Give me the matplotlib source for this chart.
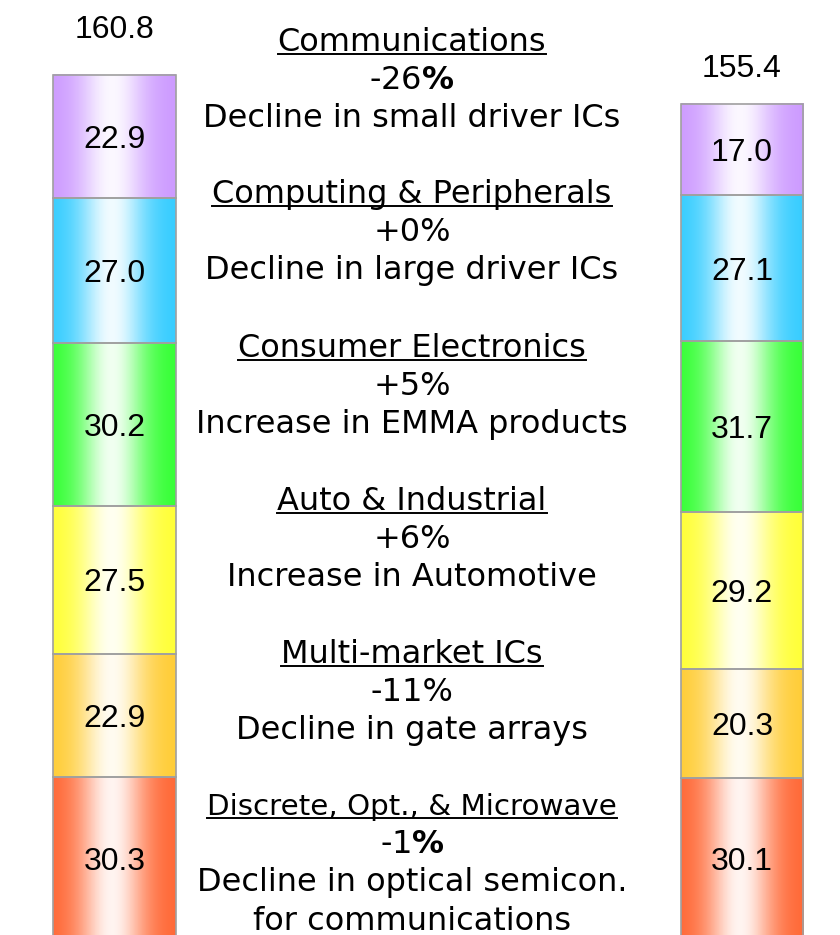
import numpy as np
import matplotlib
matplotlib.use("Agg")
import matplotlib.pyplot as plt
from matplotlib.colors import to_rgb
from matplotlib.lines import Line2D

plt.rcParams['mathtext.fontset'] = 'dejavusans'

# ---- data ----
bars = ["Left", "Right"]
segment_names = ["Discrete, Opt., & Microwave", "Multi-market ICs", "Auto & Industrial",
                 "Consumer Electronics", "Computing & Peripherals", "Communications"]
left_values = [30.3, 22.9, 27.5, 30.2, 27.0, 22.9]
right_values = [30.1, 20.3, 29.2, 31.7, 27.1, 17.0]
totals = [160.8, 155.4]
seg_colors = ["#FF6633", "#FFCC33", "#FFFF33", "#33FF33", "#33CCFF", "#CC99FF"]

# annotation blocks (top to bottom)
headings = ["Communications", "Computing & Peripherals", "Consumer Electronics",
            "Auto & Industrial", "Multi-market ICs", "Discrete, Opt., & Microwave"]
changes = ["-26$\\mathbf{\\%}$", "+0%", "+5%", "+6%", "-11%", "-1$\\mathbf{\\%}$"]
notes = ["Decline in small driver ICs", "Decline in large driver ICs",
         "Increase in EMMA products", "Increase in Automotive",
         "Decline in gate arrays", "Decline in optical semicon.\nfor communications"]

W, H = 840, 935
fig = plt.figure(figsize=(W / 100, H / 100), dpi=100)
ax = fig.add_axes([0, 0, 1, 1])
ax.axis('off')

x_pos = [0.0, 1.0]
bar_w = 0.196
series = [left_values, right_values]

# gradient profile across the bar width (colour at edges, near white in the middle)
t = np.linspace(0, 1, 400)
whiteness = 0.93 * np.exp(-((t - 0.48) / 0.27) ** 2)


def grad_img(color):
    c = np.array(to_rgb(color))
    row = c[None, :] * (1 - whiteness[:, None]) + whiteness[:, None] * 1.0
    return np.repeat(row[None, :, :], 4, axis=0)


num_fs = 23
for xi, vals in zip(x_pos, series):
    bottom = 0.0
    for v, col in zip(vals, seg_colors):
        rect = ax.bar(xi, v, width=bar_w, bottom=bottom, facecolor='none',
                      edgecolor='#A0A0A0', linewidth=1.2, zorder=3)[0]
        x0, y0 = rect.get_x(), rect.get_y()
        ax.imshow(grad_img(col), extent=(x0, x0 + rect.get_width(), y0, y0 + rect.get_height()),
                  aspect='auto', zorder=2, interpolation='nearest')
        ax.annotate(f"{v:.1f}", xy=(xi, bottom + v / 2), xytext=(0, -8.2),
                    textcoords='offset points', ha='center', va='baseline',
                    fontsize=num_fs, family='Liberation Sans', color='black', zorder=4)
        bottom += v

# totals above bars
tot_offsets = [37, 27]  # px between bar top and text baseline
for xi, tot, off in zip(x_pos, totals, tot_offsets):
    ax.annotate(f"{tot:.1f}", xy=(xi, tot), xytext=(0, off * 0.72), textcoords='offset points',
                ha='center', va='baseline', fontsize=num_fs, family='Liberation Sans')

# axis scale: 0 value at pixel 940 (below image), 5.38 px per unit
ppu = 5.38
ax.set_ylim((940 - H) / ppu, 940 / ppu)
left_px, spacing_px = 114.5, 627.5
ax.set_xlim(-left_px / spacing_px, (W - left_px) / spacing_px)

# center annotations
cx = 412 / W
block_centers = [40, 192, 346, 499, 652, 804]
heading_sizes = [23, 23, 23, 23, 23, 21.2]
line_h = 38.2
fs = 23
base_off = 11
heading_texts = []
for top, hd, hs, ch, nt in zip(block_centers, headings, heading_sizes, changes, notes):
    ht = fig.text(cx, 1 - (top + base_off) / H, hd, ha='center', va='baseline',
                  fontsize=hs, family='DejaVu Sans')
    heading_texts.append(ht)
    fig.text(cx, 1 - (top + line_h + base_off) / H, ch, ha='center', va='baseline',
             fontsize=fs, family='DejaVu Sans')
    for k, ln in enumerate(nt.split("\n")):
        fig.text(cx, 1 - (top + line_h * (2 + k) + base_off) / H, ln, ha='center',
                 va='baseline', fontsize=fs, family='DejaVu Sans')

# underline headings
fig.canvas.draw()
renderer = fig.canvas.get_renderer()
for ht in heading_texts:
    bb = ht.get_window_extent(renderer)
    base_y = ht.get_position()[1] * H
    yb = base_y - 3
    fig.add_artist(Line2D([bb.x0 / W, bb.x1 / W], [yb / H, yb / H], color='black', lw=1.4,
                          transform=fig.transFigure))

fig.savefig("out.png", dpi=100)
